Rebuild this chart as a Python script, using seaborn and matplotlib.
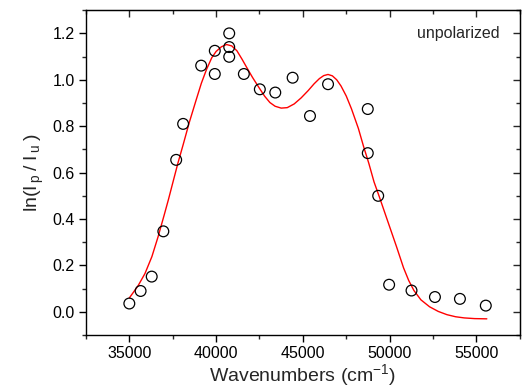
import matplotlib
matplotlib.use("Agg")
import matplotlib.pyplot as plt
import seaborn as sns
import pandas as pd
from matplotlib.ticker import MultipleLocator

# measured points
wn = [35000, 35650, 36290, 36960, 37700, 38100, 39140, 39925, 39925, 40756,
      40756, 40756, 41600, 42520, 43410, 44410, 45410, 46450, 48740, 48740,
      49340, 49970, 51260, 52610, 54050, 55540]
lnr = [0.036, 0.090, 0.152, 0.347, 0.655, 0.810, 1.061, 1.125, 1.025, 1.200,
       1.141, 1.099, 1.025, 0.959, 0.945, 1.009, 0.844, 0.981, 0.874, 0.684,
       0.500, 0.117, 0.092, 0.064, 0.056, 0.027]

# fit curve
fit_x = [35000, 35500, 35900, 36300, 36650, 37000, 37250, 37500, 37800, 38100,
         38450, 38850, 39150, 39450, 39750, 40000, 40300, 40600, 40900, 41200,
         41500, 41750, 42100, 42500, 42800, 43100, 43400, 43750, 44100, 44500,
         44900, 45300, 45650, 45950, 46200, 46450, 46700, 46950, 47200, 47500,
         47800, 48200, 48500, 48800, 49100, 49400, 49800, 50100, 50400, 50800,
         51100, 51400, 51800, 52300, 52800, 53300, 53800, 54300, 54900, 55600]
fit_y = [0.060, 0.112, 0.165, 0.238, 0.322, 0.415, 0.483, 0.555, 0.641, 0.720,
         0.815, 0.913, 0.985, 1.045, 1.095, 1.122, 1.142, 1.152, 1.146, 1.125,
         1.088, 1.055, 1.010, 0.963, 0.929, 0.902, 0.886, 0.878, 0.880, 0.896,
         0.922, 0.953, 0.983, 1.005, 1.018, 1.023, 1.017, 1.000, 0.973, 0.930,
         0.875, 0.790, 0.712, 0.640, 0.560, 0.497, 0.410, 0.345, 0.280, 0.190,
         0.135, 0.092, 0.052, 0.022, 0.002, -0.012, -0.021, -0.026, -0.029, -0.030]

sns.set_style("ticks")
plt.rcParams['font.family'] = ['Liberation Sans', 'DejaVu Sans']
plt.rcParams['mathtext.fontset'] = 'custom'
plt.rcParams['mathtext.rm'] = 'Liberation Sans'
plt.rcParams['mathtext.it'] = 'Liberation Sans'

fig = plt.figure(figsize=(5.24, 3.91), dpi=100)
ax = fig.add_axes([0.164, 0.143, 0.828, 0.831])

pts = pd.DataFrame({"x": wn, "y": lnr})
fit = pd.DataFrame({"x": fit_x, "y": fit_y})

sns.lineplot(data=fit, x="x", y="y", ax=ax, color="red", linewidth=1.0,
             sort=False, estimator=None, solid_joinstyle='round')
sns.scatterplot(data=pts, x="x", y="y", ax=ax, marker="o", s=60,
                facecolor="none", edgecolor="black", linewidth=0.9, zorder=3)

ax.set_xlim(32500, 57500)
ax.set_ylim(-0.1, 1.3)
ax.xaxis.set_major_locator(MultipleLocator(5000))
ax.xaxis.set_minor_locator(MultipleLocator(2500))
ax.yaxis.set_major_locator(MultipleLocator(0.2))
ax.yaxis.set_minor_locator(MultipleLocator(0.1))
ax.yaxis.set_major_formatter(matplotlib.ticker.FormatStrFormatter('%.1f'))

for s in ax.spines.values():
    s.set_linewidth(1.0)
    s.set_color("black")
    s.set_visible(True)

ax.tick_params(which='major', direction='out', length=5, width=1.0,
               labelsize=11.5, colors='black', pad=3)
ax.tick_params(which='minor', direction='out', length=3, width=1.0)

top = ax.secondary_xaxis('top')
top.xaxis.set_major_locator(MultipleLocator(5000))
top.xaxis.set_minor_locator(MultipleLocator(2500))
top.tick_params(which='major', direction='in', length=5, width=1.0, labeltop=False)
top.tick_params(which='minor', direction='in', length=3, width=1.0)
right = ax.secondary_yaxis('right')
right.yaxis.set_major_locator(MultipleLocator(0.2))
right.yaxis.set_minor_locator(MultipleLocator(0.1))
right.tick_params(which='major', direction='in', length=5, width=1.0, labelright=False)
right.tick_params(which='minor', direction='in', length=3, width=1.0)

ax.set_xlabel(r'Wavenumbers (cm$^{\mathregular{-1}}$)', fontsize=14, labelpad=1)
ax.set_ylabel(r'$\mathregular{ln(I_{\,p}\;/\;I_{\,u}\;)}$', fontsize=14, labelpad=5)

ax.text(0.954, 0.929, "unpolarized", transform=ax.transAxes, ha='right',
        va='center', fontsize=11.5)

fig.savefig("out.png", dpi=100)
